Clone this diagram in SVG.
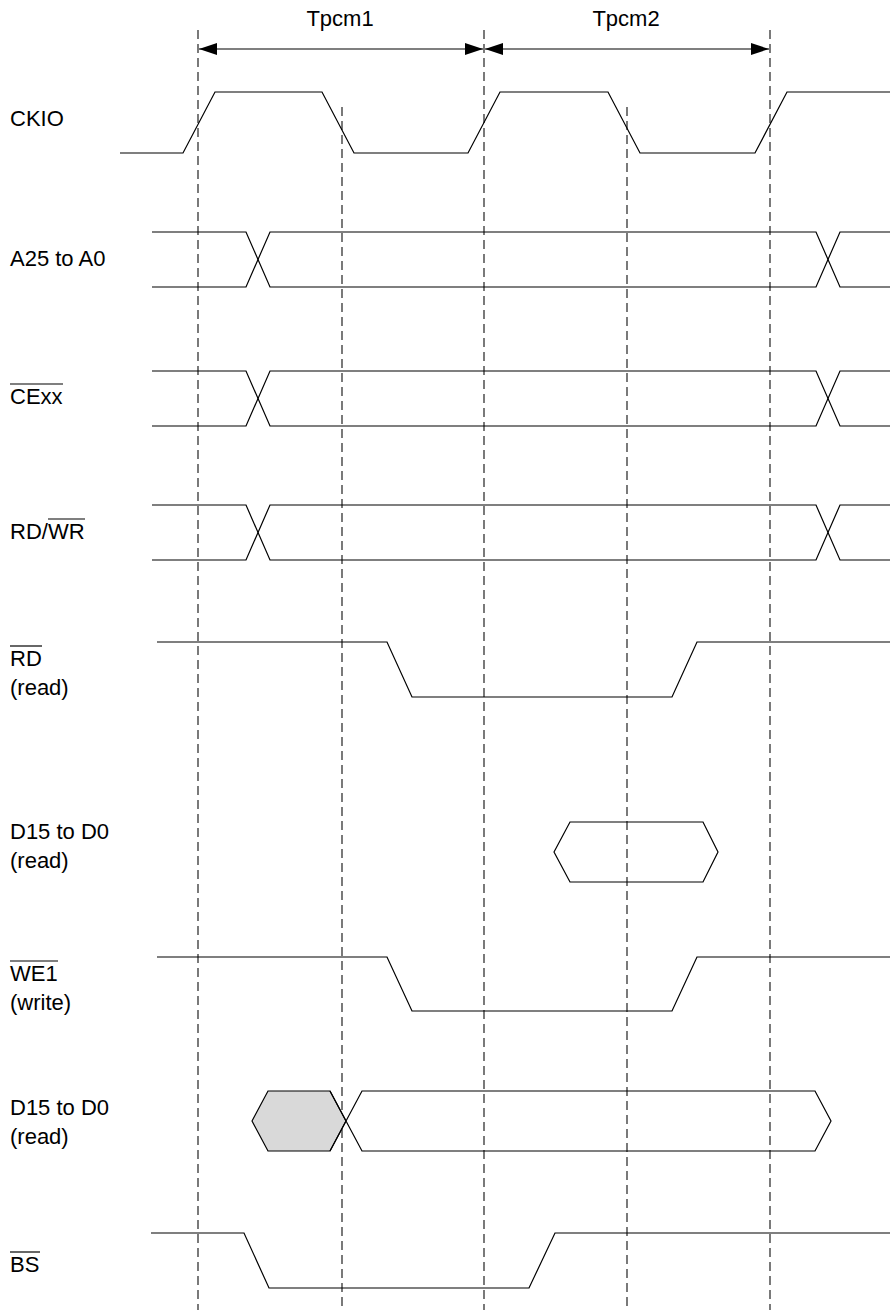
<svg xmlns="http://www.w3.org/2000/svg" width="890" height="1310" viewBox="0 0 890 1310">
<style>
.w{fill:none;stroke:#000;stroke-width:1.2;stroke-linejoin:miter}
.d{fill:none;stroke:#222;stroke-width:1.2;stroke-dasharray:9,5}
.t{font-family:"Liberation Sans",Arial,sans-serif;font-size:22px;fill:#000}
.o{stroke:#000;stroke-width:1.2}
</style>
<defs>
<marker id="ah" viewBox="0 0 18 12" refX="18" refY="6" markerWidth="18" markerHeight="12" markerUnits="userSpaceOnUse" orient="auto-start-reverse">
<path d="M0,0 L18,6 L0,12 Z" fill="#000"/>
</marker>
</defs>
<rect width="890" height="1310" fill="#fff"/>
<g id="guides">
<line class="d" x1="198" y1="30" x2="198" y2="1310"/>
<line class="d" x1="342" y1="107" x2="342" y2="1310"/>
<line class="d" x1="484" y1="30" x2="484" y2="1310"/>
<line class="d" x1="627" y1="107" x2="627" y2="1310"/>
<line class="d" x1="770" y1="30" x2="770" y2="1310"/>
</g>
<g id="connectors">
<line class="w" x1="199" y1="49" x2="483" y2="49" marker-start="url(#ah)" marker-end="url(#ah)"/>
<line class="w" x1="485" y1="49" x2="769" y2="49" marker-start="url(#ah)" marker-end="url(#ah)"/>
</g>
<g id="period-labels">
<text class="t" x="340" y="26" text-anchor="middle">Tpcm1</text>
<text class="t" x="626" y="26" text-anchor="middle">Tpcm2</text>
</g>
<g id="ckio">
<text class="t" x="10" y="126">CKIO</text>
<polyline class="w" points="120,153 183,153 215,92 322,92 354,153 468,153 500,92 608,92 640,153 755,153 787,92 890,92"/>
</g>
<g id="addr">
<text class="t" x="10" y="266">A25 to A0</text>
<polyline class="w" points="152,232 246,232 270,287 816,287 840,232 890,232"/>
<polyline class="w" points="152,287 246,287 270,232 816,232 840,287 890,287"/>
</g>
<g id="cexx">
<text class="t" x="10" y="404">CExx</text>
<line class="o" x1="10" y1="384" x2="63" y2="384"/>
<polyline class="w" points="152,371 246,371 270,426 816,426 840,371 890,371"/>
<polyline class="w" points="152,426 246,426 270,371 816,371 840,426 890,426"/>
</g>
<g id="rdwr">
<text class="t" x="10" y="539">RD/WR</text>
<line class="o" x1="48" y1="519" x2="85" y2="519"/>
<polyline class="w" points="152,505 246,505 270,560 816,560 840,505 890,505"/>
<polyline class="w" points="152,560 246,560 270,505 816,505 840,560 890,560"/>
</g>
<g id="rd">
<text class="t" x="10" y="666">RD</text>
<line class="o" x1="10" y1="646" x2="42" y2="646"/>
<text class="t" x="10" y="695">(read)</text>
<polyline class="w" points="157,642 387,642 412,697 672,697 697,642 890,642"/>
</g>
<g id="dread">
<text class="t" x="10" y="839">D15 to D0</text>
<text class="t" x="10" y="868">(read)</text>
<polygon class="w" points="554,852 570,822 703,822 718,852 703,882 570,882"/>
</g>
<g id="we1">
<text class="t" x="10" y="981">WE1</text>
<line class="o" x1="10" y1="961" x2="58" y2="961"/>
<text class="t" x="10" y="1010">(write)</text>
<polyline class="w" points="157,957 387,957 412,1011 672,1011 697,957 890,957"/>
</g>
<g id="dwrite">
<text class="t" x="10" y="1115">D15 to D0</text>
<text class="t" x="10" y="1144">(read)</text>
<polygon points="252,1121 268,1091 330,1091 346,1121 330,1151 268,1151" fill="#d9d9d9" stroke="#000" stroke-width="1.2"/>
<polyline class="w" points="330,1091 362,1151 815,1151 831,1121 815,1091 362,1091 330,1151"/>
</g>
<g id="bs">
<text class="t" x="10" y="1272">BS</text>
<line class="o" x1="10" y1="1252" x2="40" y2="1252"/>
<polyline class="w" points="151,1233 244,1233 269,1288 529,1288 555,1233 890,1233"/>
</g>
</svg>
